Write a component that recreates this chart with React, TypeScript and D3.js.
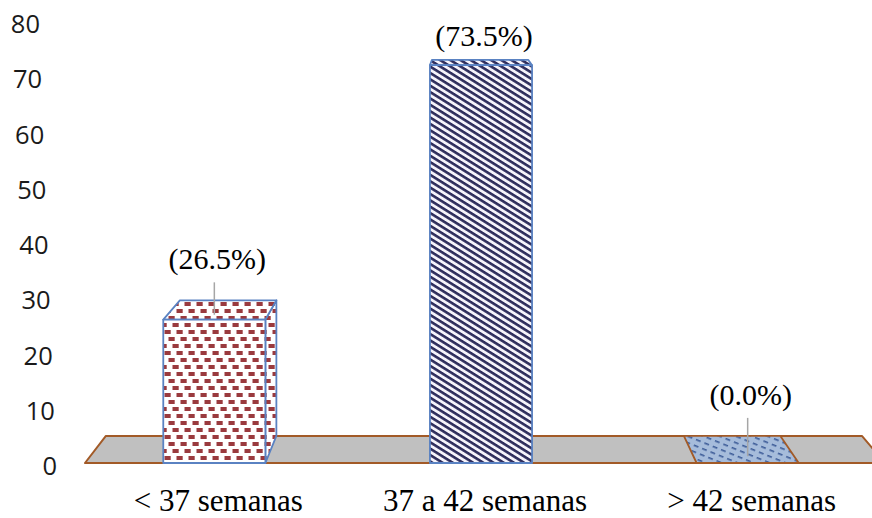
import React from "react";
import * as d3 from "d3";

// Gestational age groups and their share of births (%)
const categories: string[] = ["< 37 semanas", "37 a 42 semanas", "> 42 semanas"];
const percentages: number[] = [26.5, 73.5, 0.0];
const yTicks: number[] = [0, 10, 20, 30, 40, 50, 60, 70, 80];

const W = 872;
const H = 518;

// Perspective: points recede towards a vanishing point by a fixed depth factor
const VX = 465;
const VY = -30;
const DEPTH = 0.055;
const proj = (px: number, py: number): [number, number] => [
  px + DEPTH * (VX - px),
  py + DEPTH * (VY - py),
];

const SERIF = "'Liberation Serif', 'Times New Roman', serif";
const SANS = "'Open Sans', 'Liberation Sans', sans-serif";

const BAR_STROKE = "#5a82c2";
const FLOOR_STROKE = "#a25a27";
const FLOOR_FILL = "#c0c0c0";
const BRICK = "#9a3a3e";

const patternIds = ["pat-bricks", "pat-stripes", "pat-dashes"];

export default function App() {
  const x = d3.scaleBand<string>().domain(categories).range([81, 881]).padding(0);
  const y = d3.scaleLinear().domain([0, 80]).range([463, 30]);
  // axis labels sit on the receding wall, so they drift right as values fall
  const yLab = d3.scaleLinear().domain([0, 80]).range([465, 23]);
  const xLab = d3.scaleLinear().domain([0, 80]).range([57, 40]);

  const bw = x.bandwidth() * 0.383;
  const y0 = y(0);

  // floor plate
  const floorL = 85;
  const floorR = 885;
  const fbl = proj(floorL, y0);
  const fbr = proj(floorR, y0);
  const floorPts = [[floorL, y0], [floorR, y0], fbr, fbl];

  const pts = (a: number[][]) => a.map((p) => p.join(",")).join(" ");

  return (
    <svg
      width={W}
      height={H}
      style={{ position: "absolute", left: 0, top: 0, background: "#fff" }}
    >
      <defs>
        <pattern id="pat-bricks" width={12} height={21} patternUnits="userSpaceOnUse">
          <rect width={12} height={21} fill="#ffffff" />
          <rect x={0.5} y={1} width={6.2} height={4} fill={BRICK} />
          <rect x={4.5} y={8} width={6.2} height={4} fill={BRICK} />
          <rect x={8.5} y={15} width={6.2} height={4} fill={BRICK} />
          <rect x={-3.5} y={15} width={6.2} height={4} fill={BRICK} />
        </pattern>
        <pattern
          id="pat-stripes"
          width={8}
          height={5.4}
          patternUnits="userSpaceOnUse"
          patternTransform="rotate(32)"
        >
          <rect width={8} height={5.4} fill="#f6f4fb" />
          <rect y={0} width={8} height={2.6} fill="#2e2d5c" />
        </pattern>
        <pattern
          id="pat-dashes"
          width={9}
          height={6}
          patternUnits="userSpaceOnUse"
          patternTransform="rotate(22)"
        >
          <rect width={9} height={6} fill="#a6bcdb" />
          <rect x={0} y={2} width={5} height={1.6} fill="#3d5c98" />
        </pattern>
      </defs>

      {/* value axis labels */}
      {yTicks.map((t) => (
        <text
          key={t}
          x={xLab(t)}
          y={yLab(t)}
          textAnchor="end"
          dominantBaseline="central"
          fontFamily={SANS}
          fontSize={25.5}
          fill="#1a1a1a"
        >
          {t}
        </text>
      ))}

      {/* floor */}
      <polygon
        points={pts(floorPts)}
        fill={FLOOR_FILL}
        stroke={FLOOR_STROKE}
        strokeWidth={2}
        strokeLinejoin="round"
      />

      {/* bars */}
      {categories.map((c, i) => {
        const v = percentages[i];
        const x0 = (x(c) as number) + (x.bandwidth() - bw) / 2;
        const x1 = x0 + bw;
        const yt = y(v);
        const fill = `url(#${patternIds[i]})`;
        const stroke = v > 0 ? BAR_STROKE : FLOOR_STROKE;
        const top = [[x0, yt], [x1, yt], proj(x1, yt), proj(x0, yt)];
        const front = [[x0, yt], [x1, yt], [x1, y0], [x0, y0]];
        const rightSide = [[x1, yt], proj(x1, yt), proj(x1, y0), [x1, y0]];
        const leftSide = [[x0, yt], proj(x0, yt), proj(x0, y0), [x0, y0]];
        const showRight = proj(x1, yt)[0] > x1 && v > 0;
        const showLeft = proj(x0, yt)[0] < x0 && v > 0;
        return (
          <g key={c}>
            {showRight && (
              <polygon points={pts(rightSide)} fill={fill} stroke={stroke} strokeWidth={1.8} strokeLinejoin="round" />
            )}
            {showLeft && (
              <polygon points={pts(leftSide)} fill={fill} stroke={stroke} strokeWidth={1.8} strokeLinejoin="round" />
            )}
            <polygon points={pts(top)} fill={fill} stroke={stroke} strokeWidth={1.8} strokeLinejoin="round" />
            {v > 0 && (
              <polygon points={pts(front)} fill={fill} stroke={stroke} strokeWidth={1.8} strokeLinejoin="round" />
            )}
          </g>
        );
      })}

      {/* value labels with leader lines */}
      {categories.map((c, i) => {
        const v = percentages[i];
        const xc = (x(c) as number) + x.bandwidth() / 2;
        const yt = y(v);
        const backY = proj(xc, yt)[1];
        const wanted = backY - 31;
        const base = Math.max(wanted, 46);
        const endY = yt - 0.25 * (yt - backY);
        return (
          <g key={c}>
            {wanted >= 46 && (
              <line x1={xc} x2={xc} y1={base + 13} y2={endY} stroke="#a6a6a6" strokeWidth={1.5} />
            )}
            <text
              x={xc + 3}
              y={base}
              textAnchor="middle"
              fontFamily={SERIF}
              fontSize={30}
              fill="#000"
            >
              {`(${v.toFixed(1)}%)`}
            </text>
          </g>
        );
      })}

      {/* category labels */}
      {categories.map((c) => (
        <text
          key={c}
          x={(x(c) as number) + x.bandwidth() / 2 + 4}
          y={511}
          textAnchor="middle"
          fontFamily={SERIF}
          fontSize={31}
          fill="#000"
        >
          {c}
        </text>
      ))}
    </svg>
  );
}
